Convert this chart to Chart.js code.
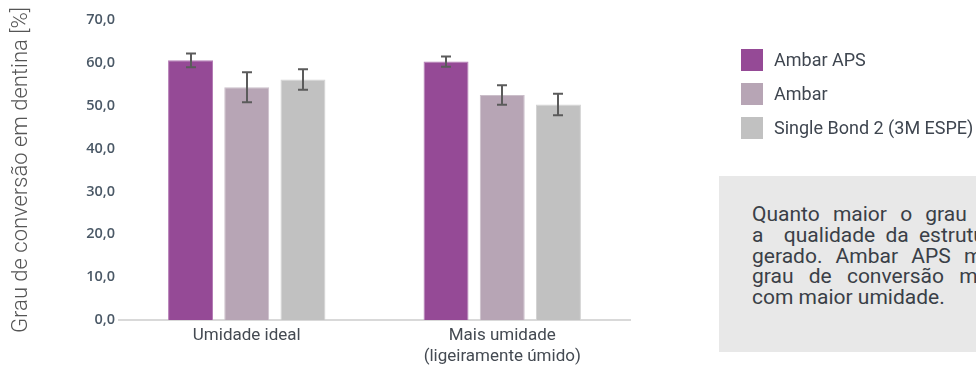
<!DOCTYPE html>
<html lang="pt">
<head>
<meta charset="utf-8">
<title>Grau de conversão em dentina</title>
<script src="https://cdn.jsdelivr.net/npm/chart.js@4"></script>
<style>
    html, body {
        margin: 0;
        padding: 0;
        background: #ffffff;
        overflow: hidden;
    }
    #wrap {
        position: relative;
        width: 976px;
        height: 367px;
        overflow: hidden;
    }
    #chart {
        position: absolute;
        left: 0;
        top: 0;
    }
    .legend-item {
        position: absolute;
        left: 741px;
        height: 22px;
        font-family: Roboto, sans-serif;
        font-size: 18px;
        color: #3f4650;
        line-height: 22px;
        white-space: nowrap;
    }
    .legend-item span {
        display: inline-block;
        width: 22px;
        height: 22px;
        vertical-align: top;
        margin-right: 11px;
    }
    #note {
        position: absolute;
        left: 719px;
        top: 176px;
        width: 340px;
        height: 176px;
        background: #e8e8e8;
    }
    #note .lines {
        position: absolute;
        left: 33px;
        top: 28px;
        width: 320px;
        font-family: Roboto, sans-serif;
        font-size: 21px;
        color: #3a3f47;
    }
    #note .lines div {
        height: 20.8px;
        line-height: 20.8px;
        white-space: nowrap;
    }
</style>
</head>
<body>
<div id="wrap">
    <canvas id="chart" width="976" height="367"></canvas>
    <div id="legend"></div>
    <div id="note">
        <div class="lines">
            <div style="word-spacing: 8px">Quanto maior o grau de conversão,</div>
            <div style="word-spacing: 5px">a&nbsp; qualidade da estrutura do</div>
            <div style="word-spacing: 8px">gerado. Ambar APS mantém</div>
            <div style="word-spacing: 10px">grau de conversão mesmo</div>
            <div>com maior umidade.</div>
        </div>
    </div>
</div>

<script>
// Categories and values
const categories = ['Umidade ideal', ['Mais umidade', '(ligeiramente úmido)']];
const seriesNames = ['Ambar APS', 'Ambar', 'Single Bond 2 (3M ESPE)'];
const seriesColors = ['#954a96', '#b7a5b5', '#c1c1c1'];
const seriesBorders = ['#b57db6', '#cbbfca', '#d3d3d3'];

const ambarAps = [60.6, 60.3];
const ambarApsErr = [1.6, 1.2];
const ambar = [54.3, 52.5];
const ambarErr = [3.5, 2.3];
const singleBond = [56.1, 50.3];
const singleBondErr = [2.4, 2.5];

const yMin = 0;
const yMax = 70;
const yStep = 10;

const seriesValues = [ambarAps, ambar, singleBond];
const seriesErrors = [ambarApsErr, ambarErr, singleBondErr];

// Build the HTML legend
const legendBox = document.getElementById('legend');
seriesNames.forEach((name, i) => {
    const item = document.createElement('div');
    item.className = 'legend-item';
    item.style.top = (49 + i * 34) + 'px';
    const swatch = document.createElement('span');
    swatch.style.background = seriesColors[i];
    item.appendChild(swatch);
    item.appendChild(document.createTextNode(name));
    legendBox.appendChild(item);
});

// Plugin drawing the error bars from the data through the y scale
const errorBarsPlugin = {
    id: 'errorBars',
    afterDatasetsDraw(chart) {
        const ctx = chart.ctx;
        const yScale = chart.scales.y;
        ctx.save();
        ctx.strokeStyle = '#5b5b5b';
        ctx.lineWidth = 2;
        chart.data.datasets.forEach((ds, di) => {
            const meta = chart.getDatasetMeta(di);
            meta.data.forEach((bar, i) => {
                const v = ds.data[i];
                const e = ds.errors[i];
                const top = yScale.getPixelForValue(v + e);
                const bottom = yScale.getPixelForValue(v - e);
                const x = Math.round(bar.x);
                ctx.beginPath();
                ctx.moveTo(x, top);
                ctx.lineTo(x, bottom);
                ctx.moveTo(x - 5, top);
                ctx.lineTo(x + 5, top);
                ctx.moveTo(x - 5, bottom);
                ctx.lineTo(x + 5, bottom);
                ctx.stroke();
            });
        });
        ctx.restore();
    }
};

const ctx = document.getElementById('chart').getContext('2d');
new Chart(ctx, {
    type: 'bar',
    data: {
        labels: categories,
        datasets: seriesNames.map((name, i) => ({
            label: name,
            data: seriesValues[i],
            errors: seriesErrors[i],
            backgroundColor: seriesColors[i],
            borderColor: seriesBorders[i],
            borderWidth: 1,
            categoryPercentage: 0.66,
            barPercentage: 0.8
        }))
    },
    options: {
        responsive: false,
        animation: false,
        layout: {
            padding: { left: 4, top: 20, right: 346, bottom: 0 }
        },
        plugins: {
            legend: { display: false },
            tooltip: { enabled: false }
        },
        scales: {
            x: {
                grid: { display: false, drawTicks: false },
                border: { display: true, color: '#d9d9d9', width: 2 },
                ticks: {
                    color: '#444a52',
                    padding: 6,
                    font: { family: 'Roboto', size: 17, lineHeight: 1.2 }
                },
                afterFit(scale) {
                    scale.height = 47;
                }
            },
            y: {
                min: yMin,
                max: yMax,
                grid: { display: false, drawTicks: false },
                border: { display: false },
                ticks: {
                    stepSize: yStep,
                    padding: 4,
                    color: '#4a5866',
                    font: { family: 'Open Sans', size: 14.5, weight: '600' },
                    callback: (v) => v.toFixed(1).replace('.', ',')
                },
                title: {
                    display: true,
                    text: 'Grau de conversão em dentina [%]',
                    color: '#555555',
                    padding: { top: 4, bottom: 0 },
                    font: { family: 'Roboto', size: 22, weight: '300' }
                },
                afterFit(scale) {
                    scale.width = 115;
                }
            }
        }
    },
    plugins: [errorBarsPlugin]
});
</script>
</body>
</html>
